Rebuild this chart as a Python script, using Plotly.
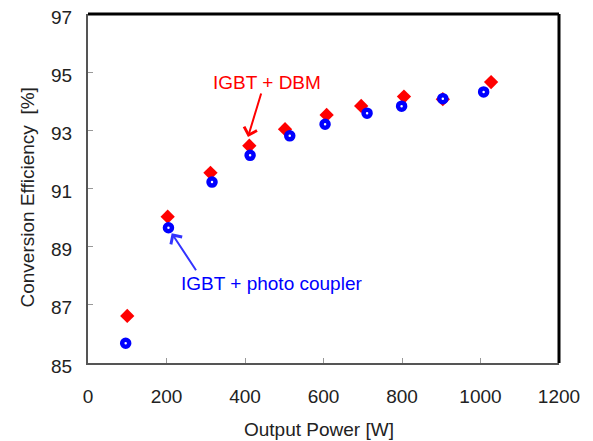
import plotly.graph_objects as go

# IGBT + DBM (red diamonds)
dbm_power = [100, 203, 312, 411, 502, 608, 696, 805, 904, 1027]
dbm_eff = [86.62, 90.03, 91.54, 92.47, 93.04, 93.53, 93.84, 94.16, 94.07, 94.66]

# IGBT + photo coupler (blue rings)
pc_power = [96, 205, 316, 413, 514, 604, 711, 799, 904, 1008]
pc_eff = [85.68, 89.65, 91.22, 92.14, 92.81, 93.21, 93.59, 93.83, 94.09, 94.32]

x_ticks = [0, 200, 400, 600, 800, 1000, 1200]
y_ticks = [85, 87, 89, 91, 93, 95, 97]

FONT = "Liberation Sans"
TXT = "#222222"

fig = go.Figure()
fig.add_trace(go.Scatter(
    x=dbm_power, y=dbm_eff, mode="markers", name="IGBT + DBM",
    marker=dict(symbol="diamond", size=11, color="#ff0000", line=dict(width=0)),
    cliponaxis=False,
))
fig.add_trace(go.Scatter(
    x=pc_power, y=pc_eff, mode="markers", name="IGBT + photo coupler",
    marker=dict(symbol="circle", size=7, color="#ffffff",
                line=dict(width=4.5, color="#0000ff")),
    cliponaxis=False,
))

axis_common = dict(
    showgrid=False, zeroline=False, showline=True, linecolor="#555555", linewidth=2,
    ticks="inside", ticklen=5, tickcolor="#999999", tickwidth=1,
    tickfont=dict(family=FONT, size=19, color=TXT),
    automargin=False, ticklabeloverflow="allow",
)

fig.update_layout(
    width=585, height=433,
    margin=dict(l=80, r=34, t=6, b=78),
    paper_bgcolor="white", plot_bgcolor="white",
    showlegend=False,
    font=dict(family=FONT, size=19, color=TXT),
    xaxis=dict(range=[0, 1200], tickvals=x_ticks, ticktext=[str(v) for v in x_ticks],
               ticklabelstandoff=15, **axis_common),
    yaxis=dict(range=[85, 97], tickvals=y_ticks, ticktext=[str(v) for v in y_ticks],
               ticklabelstandoff=10, ticklabelshift=3, **axis_common),
    shapes=[
        dict(type="line", xref="paper", yref="paper", x0=0, x1=1, y0=1, y1=1,
             line=dict(color="#000000", width=3)),
        dict(type="line", xref="paper", yref="paper", x0=1, x1=1, y0=0, y1=1,
             line=dict(color="#000000", width=3)),
    ],
    annotations=[
        # axis titles
        dict(x=0.490, y=-0.1905, xref="paper", yref="paper", text="Output Power [W]",
             showarrow=False, font=dict(family=FONT, size=19, color=TXT),
             xanchor="center", yanchor="middle"),
        dict(x=-0.1285, y=0.4756, xref="paper", yref="paper", text="Conversion Efficiency  [%]",
             showarrow=False, textangle=-90, font=dict(family=FONT, size=19, color=TXT),
             xanchor="center", yanchor="middle"),
        # callouts
        dict(x=455, y=94.66, xref="x", yref="y", text="IGBT + DBM", showarrow=False,
             font=dict(family=FONT, size=19, color="#ff0000"), xanchor="center", yanchor="middle"),
        dict(x=407.6, y=92.77, xref="x", yref="y", ax=442.3, ay=94.32, axref="x", ayref="y",
             text="", showarrow=True, arrowhead=4, arrowsize=1.3, arrowwidth=2,
             arrowcolor="#ff0000", standoff=0),
        dict(x=467.5, y=87.72, xref="x", yref="y", text="IGBT + photo coupler", showarrow=False,
             font=dict(family=FONT, size=19, color="#0000ff"), xanchor="center", yanchor="middle"),
        dict(x=213.2, y=89.46, xref="x", yref="y", ax=277.7, ay=88.14, axref="x", ayref="y",
             text="", showarrow=True, arrowhead=4, arrowsize=1.3, arrowwidth=2,
             arrowcolor="#3333ff", standoff=0),
    ],
)

fig.write_html("out.html")
